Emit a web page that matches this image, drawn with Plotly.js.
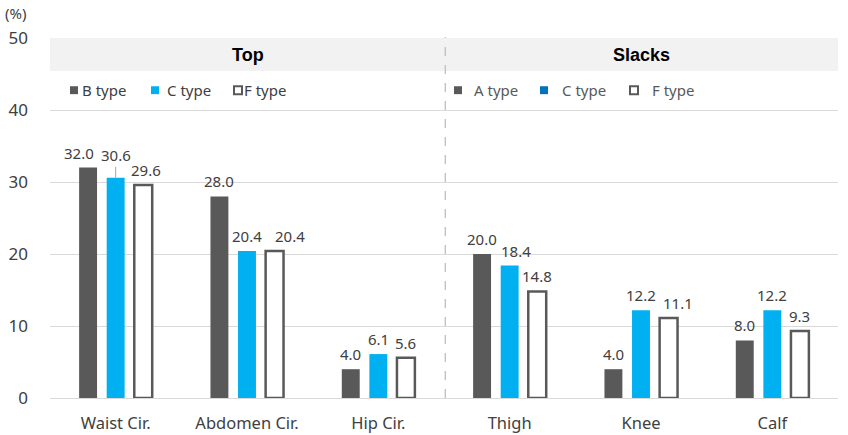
<!DOCTYPE html>
<html>
<head>
<meta charset="utf-8">
<script src="https://cdn.plot.ly/plotly-3.0.1.min.js"></script>
<style>html,body{margin:0;padding:0;background:#fff;}#chart{width:848px;height:435px;}</style>
</head>
<body>
<div id="chart"></div>
<script>
// ---- data ----
const categories = ["Waist Cir.", "Abdomen Cir.", "Hip Cir.", "Thigh", "Knee", "Calf"];
const series1 = [32.0, 28.0, 4.0, 20.0, 4.0, 8.0];   // Top: B type / Slacks: A type
const series2 = [30.6, 20.4, 6.1, 18.4, 12.2, 12.2]; // C type
const series3 = [29.6, 20.4, 5.6, 14.8, 11.1, 9.3];  // F type
const yTicks = [0, 10, 20, 30, 40, 50];
const groupTitles = ["Top", "Slacks"];
const topLegend = ["B type", "C type", "F type"];
const slacksLegend = ["A type", "C type", "F type"];

// ---- style ----
const DARK = "#595959", BLUE = "#00B0F0", BLUE_LEG = "#0070C0";
const FONT = "Noto Sans, Open Sans, sans-serif";
// small horizontal nudges (px) of data labels to avoid overlaps, per series / category
const labelNudge = [
  [-9, 0, 0, 0, 0, 0],
  [0, 0, 0, 6, 0, 0],
  [3, 15, 0, 0, 9, 0]
];

const traces = [
  {type: "bar", x: categories, y: series1, marker: {color: DARK}, hoverinfo: "y"},
  {type: "bar", x: categories, y: series2, marker: {color: BLUE}, hoverinfo: "y"},
  {type: "bar", x: categories, y: series3, marker: {color: "#ffffff", line: {color: DARK, width: 2.5}}, hoverinfo: "y"}
];

const annotations = [];
const slot = 27.6;
[series1, series2, series3].forEach((s, si) => {
  s.forEach((v, ci) => {
    const leader = (si === 1 && ci === 0);
    annotations.push({
      x: categories[ci], y: v, xref: "x", yref: "y", xanchor: "center",
      text: v.toFixed(1), xshift: (si - 1) * slot + labelNudge[si][ci],
      yanchor: "bottom", yshift: leader ? 0 : 3,
      showarrow: leader, ax: 0, ay: -11, arrowhead: 0, arrowwidth: 1, arrowcolor: "#A6A6A6", standoff: 0,
      font: {family: FONT, size: 15, color: "#404040"}
    });
  });
});

// header titles
annotations.push({x: 0.251, y: 47.7, xref: "paper", yref: "y", xanchor: "center", text: "<b>" + groupTitles[0] + "</b>", showarrow: false,
  font: {family: "Liberation Sans, Arial, sans-serif", size: 18, color: "#000"}});
annotations.push({x: 0.751, y: 47.7, xref: "paper", yref: "y", xanchor: "center", text: "<b>" + groupTitles[1] + "</b>", showarrow: false,
  font: {family: "Liberation Sans, Arial, sans-serif", size: 18, color: "#000"}});

// (%) label
annotations.push({x: 0, y: 1, xref: "paper", yref: "paper", xshift: -47, yshift: 13, xanchor: "left", yanchor: "bottom",
  text: "(%)", showarrow: false, font: {family: FONT, size: 15, color: "#404040"}});

const shapes = [
  {type: "rect", xref: "paper", yref: "y", x0: 0, x1: 1, y0: 45.4, y1: 50.1, fillcolor: "#F2F2F2", line: {width: 0}, layer: "below"},
  {type: "line", xref: "x", yref: "paper", x0: 2.51, x1: 2.51, y0: 0, y1: 1.003, line: {color: "#BFBFBF", width: 1.3, dash: "dash"}}
];

// legends (drawn manually, two different legends)
function legendItem(px, label, fill, outline, textGap, tcolor) {
  const W = 788;
  const x0 = px / W, x1 = (px + 8) / W;
  shapes.push({type: "rect", xref: "paper", yref: "y", x0: x0, x1: x1, y0: 42.2, y1: 43.3,
    fillcolor: fill, line: {color: outline || fill, width: outline ? 2 : 0}});
  annotations.push({x: (px + 8 + textGap) / W, y: 42.75, xref: "paper", yref: "y", xanchor: "left",
    text: label, showarrow: false, font: {family: FONT, size: 15, color: tcolor}});
}
legendItem(20, topLegend[0], DARK, null, 2, "#404040");
legendItem(101, topLegend[1], BLUE, null, 6, "#404040");
legendItem(184, topLegend[2], "#ffffff", DARK, 0, "#404040");
legendItem(404, slacksLegend[0], DARK, null, 10, "#595959");
legendItem(490, slacksLegend[1], BLUE_LEG, null, 12, "#595959");
legendItem(580, slacksLegend[2], "#ffffff", DARK, 12, "#595959");

const layout = {
  width: 848, height: 435,
  margin: {l: 50, r: 10, t: 38, b: 37},
  paper_bgcolor: "#fff", plot_bgcolor: "#fff",
  barmode: "group", bargap: 0.37, bargroupgap: 0.35,
  showlegend: false,
  font: {family: FONT, color: "#404040"},
  xaxis: {type: "category", range: [-0.5, 5.5], showgrid: false, zeroline: false, showline: false, ticks: "",
    tickfont: {family: FONT, size: 16.5, color: "#404040"}, ticklabelstandoff: 13, fixedrange: true},
  yaxis: {range: [0, 50], tickvals: yTicks, showgrid: true, gridcolor: "#D9D9D9", gridwidth: 1,
    zeroline: true, zerolinecolor: "#D9D9D9", zerolinewidth: 1, showline: false, ticks: "",
    tickfont: {family: FONT, size: 17, color: "#404040"}, ticklabelstandoff: 21, fixedrange: true},
  shapes: shapes,
  annotations: annotations
};

Plotly.newPlot("chart", traces, layout, {displayModeBar: false, staticPlot: true});
</script>
</body>
</html>
